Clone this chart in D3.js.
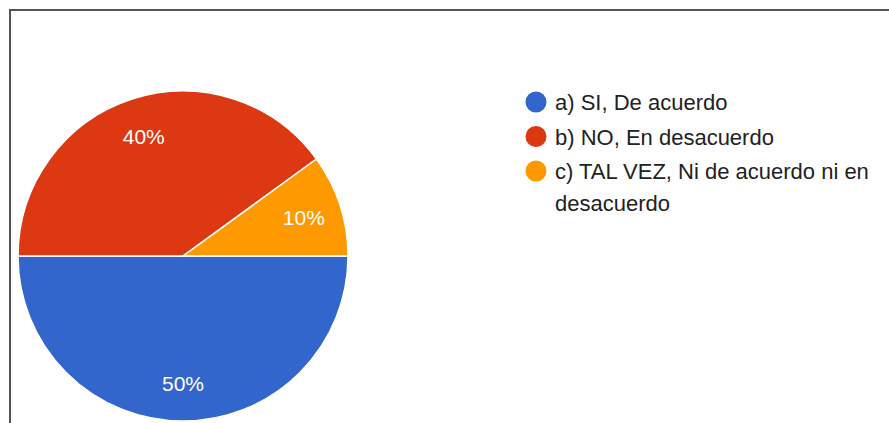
<!DOCTYPE html>
<html>
<head>
<meta charset="utf-8">
<script src="https://cdn.jsdelivr.net/npm/d3@7"></script>
<style>
  html, body { margin: 0; padding: 0; background: #fff; }
  svg { display: block; }
</style>
</head>
<body>
<svg id="chart" width="889" height="423"></svg>
<script>
const categories = ["a) SI, De acuerdo", "b) NO, En desacuerdo", "c) TAL VEZ, Ni de acuerdo ni en desacuerdo"];
const values = [50, 40, 10];
const colors = ["#3366cc", "#dc3912", "#ff9900"];

const W = 889, H = 423;
const svg = d3.select("#chart");
const font = "'Liberation Sans', Arial, sans-serif";

// frame lines (left and top)
svg.append("path")
  .attr("d", `M10,${H} L10,10 L${W},10`)
  .attr("fill", "none")
  .attr("stroke", "#555")
  .attr("stroke-width", 2);

const cx = 183, cy = 256, r = 165;
const total = d3.sum(values);

const pie = d3.pie().sort(null).value(d => d)
  .startAngle(Math.PI / 2).endAngle(Math.PI / 2 + 2 * Math.PI);
const arcs = pie(values);
const arc = d3.arc().innerRadius(0).outerRadius(r);
const labelArc = d3.arc().innerRadius(127).outerRadius(127);

const g = svg.append("g").attr("transform", `translate(${cx},${cy})`);
g.selectAll("path.slice").data(arcs).enter().append("path")
  .attr("class", "slice")
  .attr("d", arc)
  .attr("fill", (d, i) => colors[i])
  .attr("stroke", "#fff")
  .attr("stroke-width", 1.5);

g.selectAll("text.lbl").data(arcs).enter().append("text")
  .attr("class", "lbl")
  .attr("transform", d => `translate(${labelArc.centroid(d)})`)
  .attr("text-anchor", "middle")
  .attr("dy", "0.4em")
  .attr("fill", "#fff")
  .style("font-family", font)
  .style("font-size", "21px")
  .text(d => Math.round(d.data / total * 100) + "%");

// legend
const lx = 536, textX = 555, firstY = 102, lineH = 32, gap = 34.5, maxW = 325;
let y = firstY;
categories.forEach((c, i) => {
  svg.append("circle")
    .attr("cx", lx).attr("cy", y).attr("r", 10.5)
    .attr("fill", colors[i]);
  const t = svg.append("text")
    .attr("x", textX).attr("y", y + 8)
    .attr("fill", "#222")
    .style("font-family", font)
    .style("font-size", "22px");
  const words = c.split(" ");
  let line = [];
  let tspan = t.append("tspan").attr("x", textX).attr("dy", 0);
  let lines = 1;
  words.forEach(w => {
    line.push(w);
    tspan.text(line.join(" "));
    if (tspan.node().getComputedTextLength() > maxW && line.length > 1) {
      line.pop();
      tspan.text(line.join(" "));
      line = [w];
      tspan = t.append("tspan").attr("x", textX).attr("dy", lineH).text(w);
      lines++;
    }
  });
  y += gap + (lines - 1) * lineH;
});
</script>
</body>
</html>
